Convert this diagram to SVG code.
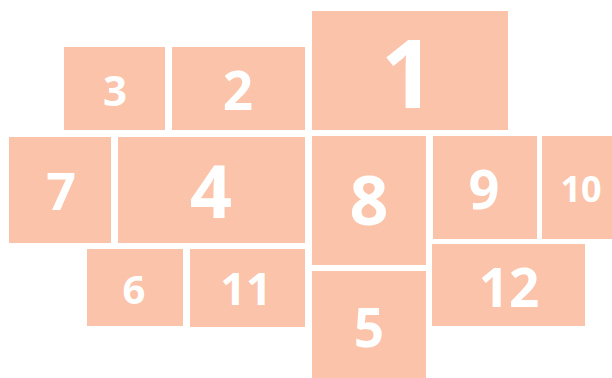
<svg xmlns="http://www.w3.org/2000/svg" width="612" height="378" viewBox="0 0 612 378">
<style>
.b{fill:#fbc3a9}
.t{fill:#ffffff;font-family:"Open Sans","Noto Sans","Liberation Sans",sans-serif;font-weight:bold;text-anchor:middle}
</style>
<rect width="612" height="378" fill="#ffffff"/>
<g id="n1"><rect class="b" x="312" y="11" width="196" height="119"/><text class="t" x="408" y="108" font-size="95">1</text></g>
<g id="n2"><rect class="b" x="172" y="47" width="133" height="83"/><text class="t" x="238" y="110" font-size="53">2</text></g>
<g id="n3"><rect class="b" x="64" y="47" width="101" height="83"/><text class="t" x="115" y="106" font-size="42">3</text></g>
<g id="n7"><rect class="b" x="9" y="137" width="102" height="106"/><text class="t" x="61" y="210" font-size="52">7</text></g>
<g id="n4"><rect class="b" x="118" y="137" width="187" height="106"/><text class="t" x="211" y="218" font-size="74">4</text></g>
<g id="n8"><rect class="b" x="312" y="136" width="114" height="129"/><text class="t" x="369" y="225" font-size="68">8</text></g>
<g id="n9"><rect class="b" x="433" y="136" width="104" height="103"/><text class="t" x="484" y="209" font-size="54">9</text></g>
<g id="n10"><rect class="b" x="542" y="136" width="70" height="103"/><text class="t" x="581" y="202" font-size="36">10</text></g>
<g id="n12"><rect class="b" x="432" y="244" width="153" height="82"/><text class="t" x="509" y="307" font-size="53">12</text></g>
<g id="n5"><rect class="b" x="312" y="271" width="114" height="107"/><text class="t" x="369" y="347" font-size="53">5</text></g>
<g id="n6"><rect class="b" x="87" y="249" width="96" height="77"/><text class="t" x="134" y="304" font-size="40">6</text></g>
<g id="n11"><rect class="b" x="190" y="249" width="115" height="78"/><text class="t" x="246" y="305" font-size="45">11</text></g>
<g id="connectors"></g>
</svg>
